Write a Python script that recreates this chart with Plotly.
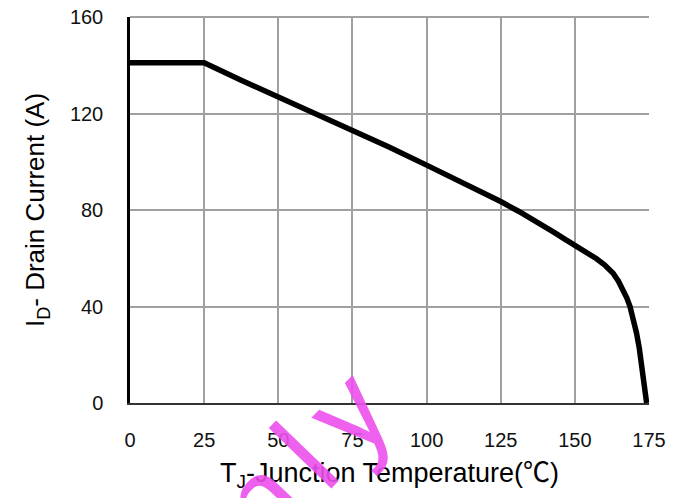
import plotly.graph_objects as go

temp_c = [0, 25, 37.5, 50, 62.5, 75, 87.5, 100, 112.5, 125, 131, 137.5, 143, 147, 151.7,
          154.5, 157.3, 160, 162.9, 164.7, 166.3, 167.5, 168.6, 169.8, 170.8, 171.7,
          172.5, 173.1, 173.6, 174.2]
drain_a = [141, 141, 133.8, 126.8, 120, 113.4, 106, 98.6, 91.2, 83.5, 79.5, 75, 70.7, 67.6, 64.3,
           62, 59.8, 57.3, 53.8, 50.5, 46.9, 43.6, 40, 34.8, 29, 22.9,
           16.6, 11.5, 6.9, 0]

x_ticks = [0, 25, 50, 75, 100, 125, 150, 175]
y_ticks = [0, 40, 80, 120, 160]

fig = go.Figure()
fig.add_trace(go.Scatter(
    x=temp_c, y=drain_a, mode="lines",
    line=dict(color="black", width=5.5),
    showlegend=False, hoverinfo="skip",
))

font_family = "Liberation Sans, Arial, sans-serif"

fig.update_layout(
    width=683, height=498,
    margin=dict(l=122, r=42, t=9, b=103),
    paper_bgcolor="white", plot_bgcolor="white",
    font=dict(family=font_family, color="black"),
    xaxis=dict(
        range=[0, 175], tickvals=x_ticks, ticktext=[str(v) for v in x_ticks],
        showgrid=True, gridcolor="#a0a0a0", gridwidth=2,
        showline=True, linecolor="#333333", linewidth=2,
        ticks="", ticklabelstandoff=18, automargin=False, ticklabeloverflow="allow",
        tickfont=dict(size=20, color="#111111"),
        title=dict(text="T<sub>J</sub>-Junction Temperature(<span style=\"font-family:'Noto Sans CJK SC'\">℃</span>)",
                   font=dict(size=27), standoff=2),
        zeroline=False, fixedrange=True,
    ),
    yaxis=dict(
        range=[0, 160], tickvals=y_ticks, ticktext=[str(v) for v in y_ticks],
        showgrid=True, gridcolor="#a0a0a0", gridwidth=2,
        showline=True, linecolor="black", linewidth=2.5,
        ticks="", ticklabelstandoff=20, automargin=False, ticklabeloverflow="allow",
        tickfont=dict(size=20, color="#111111"),
        title=dict(text="I<sub>D</sub>- Drain Current (A)", font=dict(size=26), standoff=18),
        zeroline=False, fixedrange=True,
    ),
)

# top frame edge of the plot area
fig.add_shape(type="line", xref="paper", yref="paper", x0=0, x1=1, y0=1, y1=1,
              line=dict(color="#a0a0a0", width=2), layer="below")

fig.add_annotation(
    xref="paper", yref="paper", x=0.287, y=-0.204,
    xanchor="center", yanchor="middle",
    text="<span style=\"letter-spacing:18px\">only</span>", showarrow=False, textangle=-46,
    font=dict(family=font_family, size=120, color="rgba(236,80,236,0.9)"),
)

fig.write_html("out.html")
